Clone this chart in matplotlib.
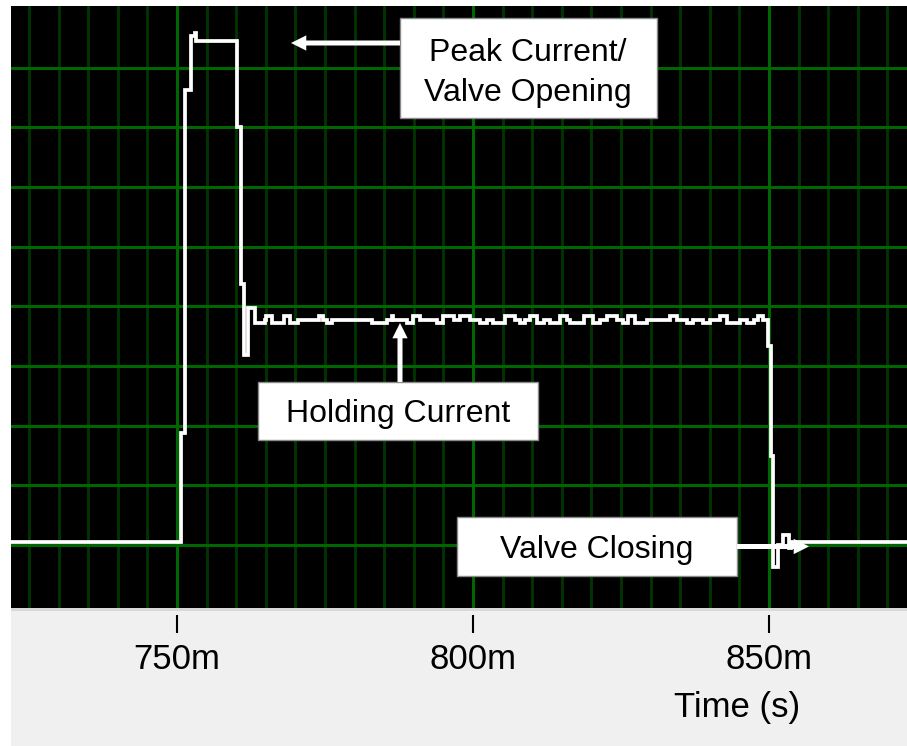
import numpy as np
import matplotlib
matplotlib.use("Agg")
import matplotlib.pyplot as plt
from matplotlib.patches import Rectangle, FancyArrowPatch

# ---------------- trace data ----------------
# time in ms, level in screen divisions; each entry is where the level changes
open_t = [721.95, 750.68, 751.35, 752.36, 752.96, 753.2, 760.2, 760.75, 761.25, 762.0, 763.1]
open_v = [1.05, 2.88, 8.63, 9.53, 9.58, 9.44, 8.01, 5.38, 4.19, 4.97, 4.72]

# holding-current ripple (three quantised levels)
LO, MID, HI = 4.72, 4.77, 4.84
hold_t = [764.9, 765.1, 766.0, 768.0, 769.1, 770.5, 773.9, 774.7, 775.3, 776.1,
          782.9, 785.4, 786.3, 786.5, 788.8, 789.9, 791.0, 793.9, 795.0, 796.7,
          797.8, 799.5, 801.2, 802.3, 803.4, 805.4, 807.1, 807.9, 808.8, 809.6,
          810.8, 811.9, 813.0, 814.7, 815.8, 816.4, 818.8, 820.3, 821.5, 822.6,
          824.3, 825.4, 826.2, 827.4, 829.3, 833.3, 834.4, 836.1, 837.2, 838.9,
          840.0, 841.7, 842.9, 845.1, 846.2, 847.4, 848.2, 849.0]
hold_v = [MID, HI, LO, HI, LO, MID, HI, MID, LO, MID,
          LO, MID, HI, MID, LO, HI, MID, LO, HI, MID,
          HI, MID, LO, MID, LO, HI, MID, LO, MID, HI,
          LO, MID, LO, HI, MID, LO, HI, LO, MID, HI,
          MID, LO, HI, LO, MID, HI, MID, LO, MID, LO,
          MID, HI, LO, MID, LO, MID, HI, MID]

# valve closing: fall, undershoot, ringing, back to baseline
close_t = [849.8, 850.3, 850.72, 851.5, 852.4, 853.3, 853.7]
close_v = [4.34, 2.49, 0.64, 1.0, 1.17, 0.95, 1.05]
t_end = 873.3

tick_pos = [750, 800, 850]
tick_lbl = ["750m", "800m", "850m"]

# ---------------- figure ----------------
W, H = 907, 746
fig = plt.figure(figsize=(W / 100, H / 100), dpi=100, facecolor="white")


def fx(x):
    return x / W


def fy(y):
    return 1 - y / H


# light grey strip under the screen (kept behind the axes)
fig.patches.append(Rectangle((fx(11), 0), fx(W) - fx(11), fy(611), transform=fig.transFigure,
                             facecolor="#f0f0f0", edgecolor="none", zorder=-2))
fig.patches.append(Rectangle((fx(11), fy(611)), fx(W) - fx(11), fy(608) - fy(611),
                             transform=fig.transFigure, facecolor="#d8d8d8",
                             edgecolor="none", zorder=-2))

ax = fig.add_axes([fx(11), fy(608), fx(W) - fx(11), fy(6) - fy(608)])
ax.set_facecolor("black")
ax.set_xlim(721.95, 873.3)
ax.set_ylim(-0.055, 10.035)

for s in ["top", "left", "right"]:
    ax.spines[s].set_visible(False)
ax.spines["bottom"].set_position(("outward", 5))
ax.spines["bottom"].set_visible(False)

ax.set_xticks(tick_pos, labels=tick_lbl)
ax.set_xticks([t for t in range(725, 875, 5) if t % 50], minor=True)
ax.set_yticks(range(1, 10))
ax.tick_params(axis="x", which="major", direction="out", length=13, width=1.5,
               color="black", pad=7, labelsize=25)
ax.tick_params(axis="x", which="minor", length=0)
ax.tick_params(axis="y", length=0, labelleft=False)
for lbl in ax.get_xticklabels():
    lbl.set_fontfamily("Liberation Sans")

ax.set_axisbelow(True)
ax.grid(which="major", color="#006600", lw=2.2)
ax.grid(which="minor", axis="x", color="#003500", lw=2.0)

# step trace
t_all = open_t + hold_t + close_t + [t_end]
v_all = open_v + hold_v + close_v + [close_v[-1]]
ax.plot(t_all, v_all, drawstyle="steps-post", color="white", lw=2.7,
        solid_joinstyle="miter", solid_capstyle="butt", zorder=3)

# ---------------- annotations ----------------
FONT = "Liberation Sans"


def box(x0, y0, x1, y1):
    fig.patches.append(Rectangle((fx(x0), fy(y1)), fx(x1) - fx(x0), fy(y0) - fy(y1),
                                 transform=fig.transFigure, facecolor="white",
                                 edgecolor="#8a8a8a", lw=1.0, zorder=5))


def arrow(x0, y0, x1, y1):
    fig.patches.append(FancyArrowPatch((fx(x0), fy(y0)), (fx(x1), fy(y1)),
                                       transform=fig.transFigure,
                                       arrowstyle="simple,head_length=11,head_width=11,tail_width=3.6",
                                       mutation_scale=1, color="white", lw=0,
                                       shrinkA=0, shrinkB=0, zorder=6))


box(400, 18, 657, 118)
fig.text(fx(528), fy(61), "Peak Current/", ha="center", va="baseline",
         fontsize=23, family=FONT, zorder=7)
fig.text(fx(528), fy(101), "Valve Opening", ha="center", va="baseline",
         fontsize=23, family=FONT, zorder=7)
arrow(400, 43, 291, 43)

box(258, 382, 538, 440)
fig.text(fx(398), fy(422), "Holding Current", ha="center", va="baseline",
         fontsize=23, family=FONT, zorder=7)
arrow(400, 382, 400, 323)

box(457, 517, 737, 576)
fig.text(fx(597), fy(558), "Valve Closing", ha="center", va="baseline",
         fontsize=23, family=FONT, zorder=7)
arrow(737, 546.5, 809, 546.5)

fig.text(fx(737), fy(717), "Time (s)", ha="center", va="baseline",
         fontsize=25, family=FONT)

fig.savefig("out.png", dpi=100, facecolor="white")
